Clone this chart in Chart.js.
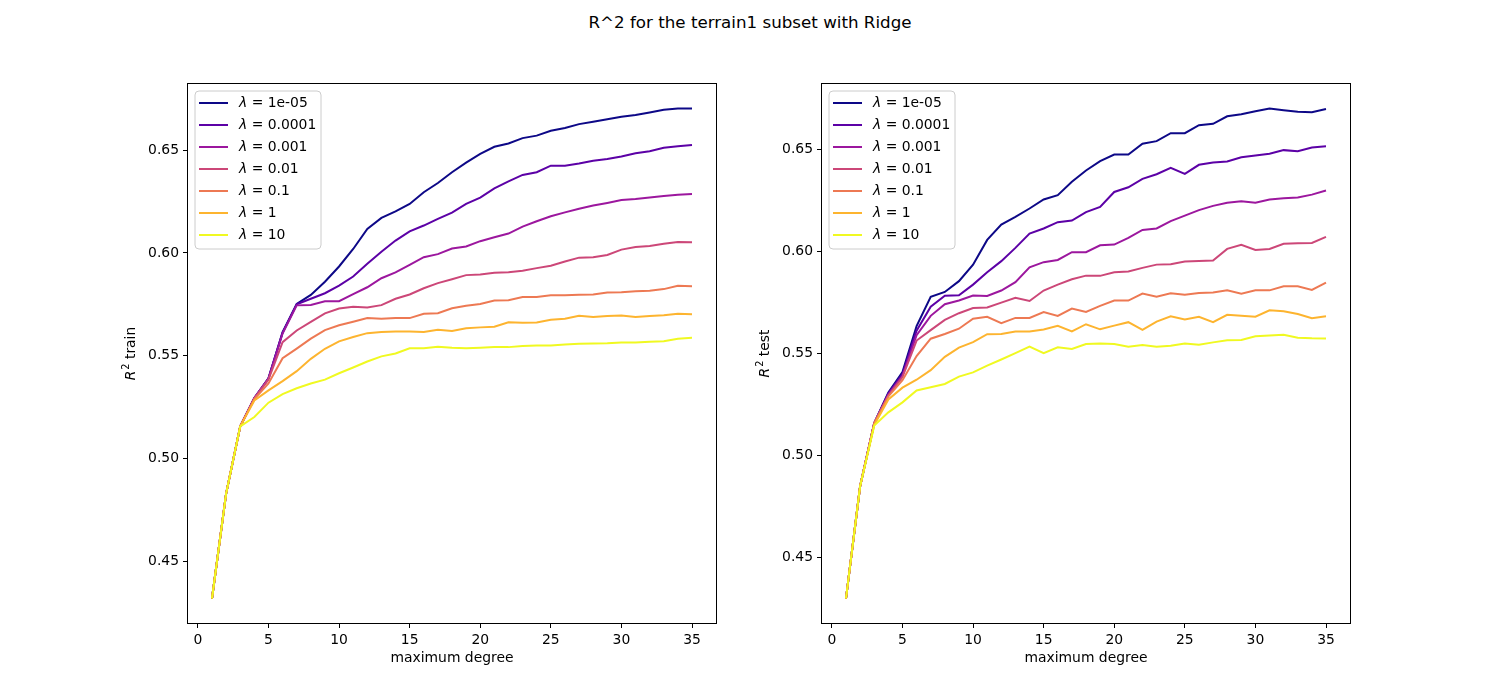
<!DOCTYPE html>
<html>
<head>
<meta charset="utf-8">
<script src="https://cdn.jsdelivr.net/npm/chart.js@4/dist/chart.umd.min.js"></script>
<style>
  body { margin: 0; background: #fff; }
  #wrap { position: relative; width: 1500px; height: 700px; overflow: hidden; }
  #title { position: absolute; left: 0; top: 12px; width: 1500px; text-align: center;
           font-family: "DejaVu Sans"; font-size: 16.7px; color: #000; }
  canvas { position: absolute; top: 0; }
</style>
</head>
<body>
<div id="wrap">
  <div id="title">R^2 for the terrain1 subset with Ridge</div>
  <canvas id="trainChart" width="750" height="700" style="left:0px"></canvas>
  <canvas id="testChart" width="750" height="700" style="left:750px"></canvas>
</div>
<script>
const degrees = [1, 2, 3, 4, 5, 6, 7, 8, 9, 10, 11, 12, 13, 14, 15, 16, 17, 18,
                 19, 20, 21, 22, 23, 24, 25, 26, 27, 28, 29, 30, 31, 32, 33, 34, 35];
const lambdas = ['1e-05', '0.0001', '0.001', '0.01', '0.1', '1', '10'];
const lineColors = ['#0d0887', '#5c01a6', '#9c179e', '#cc4778', '#ed7953', '#fdb42f', '#f0f921'];
const xTicks = [0, 5, 10, 15, 20, 25, 30, 35];
const yTicks = [0.45, 0.50, 0.55, 0.60, 0.65];

// R^2 on the training data, one array per lambda
const train1e5 = [0.432, 0.483, 0.5157, 0.5295, 0.5390, 0.5615, 0.5752, 0.5796, 0.5860, 0.5934, 0.6019, 0.6117,
  0.6170, 0.6202, 0.6238, 0.6295, 0.6340, 0.6392, 0.6439, 0.6481, 0.6516, 0.6532, 0.6558, 0.6570,
  0.6594, 0.6607, 0.6626, 0.6638, 0.6650, 0.6662, 0.6670, 0.6683, 0.6696, 0.6702, 0.6702];
const train1e4 = [0.432, 0.483, 0.5157, 0.5295, 0.5390, 0.5612, 0.5750, 0.5777, 0.5804, 0.5841, 0.5885, 0.5947,
  0.6006, 0.6060, 0.6105, 0.6133, 0.6165, 0.6196, 0.6238, 0.6269, 0.6314, 0.6348, 0.6379, 0.6392,
  0.6424, 0.6424, 0.6435, 0.6448, 0.6456, 0.6469, 0.6484, 0.6494, 0.6511, 0.6518, 0.6524];
const train1e3 = [0.432, 0.483, 0.5157, 0.5295, 0.5388, 0.5608, 0.5745, 0.5747, 0.5765, 0.5765, 0.5800, 0.5833,
  0.5877, 0.5905, 0.5942, 0.5979, 0.5994, 0.6021, 0.6031, 0.6057, 0.6076, 0.6094, 0.6128, 0.6154,
  0.6178, 0.6197, 0.6215, 0.6230, 0.6243, 0.6257, 0.6262, 0.6269, 0.6277, 0.6283, 0.6286];
const train1e2 = [0.432, 0.483, 0.5157, 0.5293, 0.5385, 0.5566, 0.5623, 0.5665, 0.5706, 0.5730, 0.5738, 0.5735,
  0.5746, 0.5777, 0.5798, 0.5828, 0.5853, 0.5872, 0.5892, 0.5895, 0.5903, 0.5906, 0.5913, 0.5926,
  0.5938, 0.5958, 0.5977, 0.5979, 0.5990, 0.6016, 0.6029, 0.6034, 0.6044, 0.6053, 0.6052];
const train1e1 = [0.432, 0.483, 0.5157, 0.5290, 0.5365, 0.5488, 0.5535, 0.5583, 0.5625, 0.5648, 0.5665, 0.5683,
  0.5680, 0.5684, 0.5683, 0.5704, 0.5707, 0.5731, 0.5743, 0.5752, 0.5769, 0.5770, 0.5786, 0.5786,
  0.5794, 0.5794, 0.5796, 0.5798, 0.5807, 0.5809, 0.5814, 0.5816, 0.5824, 0.5840, 0.5838];
const train1 = [0.432, 0.483, 0.5157, 0.5283, 0.5332, 0.5377, 0.5425, 0.5485, 0.5534, 0.5570, 0.5591, 0.5610,
  0.5615, 0.5618, 0.5618, 0.5615, 0.5626, 0.5620, 0.5634, 0.5638, 0.5641, 0.5663, 0.5660, 0.5662,
  0.5675, 0.5680, 0.5694, 0.5688, 0.5693, 0.5696, 0.5688, 0.5693, 0.5697, 0.5704, 0.5702];
const train10 = [0.432, 0.483, 0.5157, 0.5202, 0.5272, 0.5314, 0.5342, 0.5365, 0.5384, 0.5415, 0.5443, 0.5472,
  0.5497, 0.5511, 0.5536, 0.5537, 0.5544, 0.5539, 0.5537, 0.5539, 0.5542, 0.5542, 0.5547, 0.5550,
  0.5550, 0.5555, 0.5558, 0.5560, 0.5561, 0.5565, 0.5565, 0.5568, 0.5571, 0.5583, 0.5587];

// R^2 on the test data
const test1e5 = [0.430, 0.485, 0.516, 0.531, 0.541, 0.5635, 0.5778, 0.5802, 0.5855, 0.5936, 0.6057, 0.6132,
  0.6170, 0.6211, 0.6255, 0.6276, 0.6342, 0.6397, 0.6443, 0.6475, 0.6475, 0.6528, 0.6541, 0.6580,
  0.6580, 0.6619, 0.6626, 0.6663, 0.6673, 0.6688, 0.6701, 0.6693, 0.6685, 0.6683, 0.6699];
const test1e4 = [0.430, 0.485, 0.516, 0.5305, 0.540, 0.5612, 0.5730, 0.5784, 0.5786, 0.5838, 0.5899, 0.5953,
  0.6018, 0.6088, 0.6113, 0.6144, 0.6152, 0.6193, 0.6219, 0.6292, 0.6315, 0.6356, 0.6379, 0.6410,
  0.6381, 0.6425, 0.6436, 0.6441, 0.6462, 0.6471, 0.6479, 0.6497, 0.6492, 0.6510, 0.6516];
const test1e3 = [0.430, 0.485, 0.516, 0.530, 0.539, 0.5590, 0.5685, 0.5742, 0.5760, 0.5785, 0.5782, 0.5809,
  0.5850, 0.5923, 0.5948, 0.5959, 0.5997, 0.5997, 0.6031, 0.6034, 0.6067, 0.6106, 0.6113, 0.6149,
  0.6176, 0.6203, 0.6224, 0.6239, 0.6247, 0.6239, 0.6255, 0.6261, 0.6265, 0.6279, 0.6299];
const test1e2 = [0.430, 0.485, 0.516, 0.5295, 0.5385, 0.5564, 0.5615, 0.5665, 0.5698, 0.5723, 0.5726, 0.5750,
  0.5773, 0.5758, 0.5809, 0.5838, 0.5864, 0.5882, 0.5881, 0.5899, 0.5902, 0.5920, 0.5936, 0.5938,
  0.5951, 0.5954, 0.5956, 0.6013, 0.6033, 0.6008, 0.6013, 0.6038, 0.6041, 0.6042, 0.6072];
const test1e1 = [0.430, 0.485, 0.516, 0.529, 0.537, 0.5488, 0.5573, 0.5596, 0.5622, 0.5671, 0.5680, 0.5649,
  0.5675, 0.5675, 0.5704, 0.5685, 0.5721, 0.5704, 0.5734, 0.5760, 0.5760, 0.5794, 0.5779, 0.5796,
  0.5788, 0.5797, 0.5799, 0.5810, 0.5794, 0.5810, 0.5810, 0.5830, 0.5830, 0.5812, 0.5848];
const test1 = [0.430, 0.485, 0.515, 0.5275, 0.5333, 0.5372, 0.5419, 0.5484, 0.5529, 0.5556, 0.5595, 0.5596,
  0.5608, 0.5608, 0.5618, 0.5636, 0.5609, 0.5644, 0.5619, 0.5637, 0.5654, 0.5616, 0.5657, 0.5683,
  0.5667, 0.5680, 0.5654, 0.5690, 0.5686, 0.5681, 0.5712, 0.5708, 0.5694, 0.5673, 0.5683];
const test10 = [0.430, 0.485, 0.5147, 0.5212, 0.5261, 0.5319, 0.5335, 0.5351, 0.5387, 0.5408, 0.5441, 0.5471,
  0.5502, 0.5534, 0.5502, 0.5531, 0.5523, 0.5547, 0.5550, 0.5547, 0.5534, 0.5542, 0.5534, 0.5539,
  0.5550, 0.5544, 0.5555, 0.5565, 0.5567, 0.5585, 0.5589, 0.5592, 0.5578, 0.5575, 0.5574];

const trainSeries = [train1e5, train1e4, train1e3, train1e2, train1e1, train1, train10];
const testSeries = [test1e5, test1e4, test1e3, test1e2, test1e1, test1, test10];

Chart.defaults.font.family = 'DejaVu Sans';
Chart.defaults.font.size = 13.9;
Chart.defaults.color = '#000';

const FONT = '"DejaVu Sans"';

// frame, in-axes legend and axis titles drawn the matplotlib way
const mplDecor = {
  id: 'mplDecor',
  afterDatasetsDraw(chart, args, opts) {
    const ctx = chart.ctx, a = chart.chartArea;
    ctx.save();
    // legend box
    const bx = a.left + 7, by = a.top + 7, bw = 126, bh = 158, r = 4;
    ctx.beginPath();
    ctx.moveTo(bx + r, by);
    ctx.arcTo(bx + bw, by, bx + bw, by + bh, r);
    ctx.arcTo(bx + bw, by + bh, bx, by + bh, r);
    ctx.arcTo(bx, by + bh, bx, by, r);
    ctx.arcTo(bx, by, bx + bw, by, r);
    ctx.closePath();
    ctx.fillStyle = 'rgba(255,255,255,0.8)';
    ctx.fill();
    ctx.strokeStyle = '#cccccc';
    ctx.lineWidth = 1;
    ctx.stroke();
    chart.data.datasets.forEach((ds, i) => {
      const y = a.top + 19 + i * 22;
      ctx.strokeStyle = ds.borderColor;
      ctx.lineWidth = 2;
      ctx.beginPath();
      ctx.moveTo(a.left + 11, y);
      ctx.lineTo(a.left + 40, y);
      ctx.stroke();
      ctx.fillStyle = '#000';
      ctx.textBaseline = 'middle';
      ctx.textAlign = 'left';
      ctx.font = 'italic 13.9px ' + FONT;
      ctx.fillText('λ', a.left + 51, y);
      const w = ctx.measureText('λ').width;
      ctx.font = '13.9px ' + FONT;
      ctx.fillText(' = ' + lambdas[i], a.left + 51 + w, y);
    });
    ctx.restore();
  },
  afterDraw(chart, args, opts) {
    const ctx = chart.ctx, a = chart.chartArea;
    ctx.save();
    ctx.strokeStyle = '#000';
    ctx.lineWidth = 1;
    ctx.strokeRect(Math.round(a.left) - 0.5, Math.round(a.top) - 0.5,
                   Math.round(a.right - a.left) + 1, Math.round(a.bottom - a.top) + 1);
    // x axis title
    ctx.fillStyle = '#000';
    ctx.font = '13.9px ' + FONT;
    ctx.textAlign = 'center';
    ctx.textBaseline = 'middle';
    ctx.fillText(opts.xTitle, (a.left + a.right) / 2, a.bottom + 35);
    // y axis title: italic R, superscript 2, then the word
    ctx.translate(a.left - 57, (a.top + a.bottom) / 2);
    ctx.rotate(-Math.PI / 2);
    ctx.textAlign = 'left';
    ctx.font = 'italic 13.9px ' + FONT;
    const wR = ctx.measureText('R').width;
    ctx.font = '9.7px ' + FONT;
    const w2 = ctx.measureText('2').width;
    ctx.font = '13.9px ' + FONT;
    const wT = ctx.measureText(' ' + opts.yWord).width;
    let x = -(wR + w2 + 1 + wT) / 2;
    ctx.font = 'italic 13.9px ' + FONT;
    ctx.fillText('R', x, 0);
    x += wR + 1;
    ctx.font = '9.7px ' + FONT;
    ctx.fillText('2', x, -5);
    x += w2;
    ctx.font = '13.9px ' + FONT;
    ctx.fillText(' ' + opts.yWord, x, 0);
    ctx.restore();
  }
};

function makeChart(canvasId, series, yWord, yAxisWidth, rightPad) {
  const all = series.flat();
  const lo = Math.min(...all), hi = Math.max(...all);
  const m = (hi - lo) * 0.05;
  const xm = (degrees[degrees.length - 1] - degrees[0]) * 0.05;

  // later lambdas are drawn on top, as in the original plot
  const datasets = series.map((vals, i) => ({
    label: 'λ = ' + lambdas[i],
    data: vals.map((v, j) => ({ x: degrees[j], y: v })),
    borderColor: lineColors[i],
    backgroundColor: lineColors[i],
    borderWidth: 2,
    pointRadius: 0,
    tension: 0,
    fill: false,
    order: series.length - i
  }));

  return new Chart(document.getElementById(canvasId), {
    type: 'line',
    data: { datasets: datasets },
    options: {
      responsive: false,
      animation: false,
      events: [],
      layout: { padding: { top: 84, right: rightPad, left: 0, bottom: 0 } },
      scales: {
        x: {
          type: 'linear',
          min: degrees[0] - xm,
          max: degrees[degrees.length - 1] + xm,
          afterBuildTicks: (scale) => { scale.ticks = xTicks.map(v => ({ value: v })); },
          afterFit: (scale) => { scale.height = 77; },
          ticks: { padding: 4, maxRotation: 0, callback: (v) => String(v) },
          grid: { display: true, drawOnChartArea: false, drawTicks: true, tickLength: 5, tickColor: '#000' },
          border: { display: false }
        },
        y: {
          type: 'linear',
          min: lo - m,
          max: hi + m,
          afterBuildTicks: (scale) => { scale.ticks = yTicks.map(v => ({ value: v })); },
          afterFit: (scale) => { scale.width = yAxisWidth; },
          ticks: { padding: 4, callback: (v) => v.toFixed(2) },
          grid: { display: true, drawOnChartArea: false, drawTicks: true, tickLength: 5, tickColor: '#000' },
          border: { display: false }
        }
      },
      plugins: {
        legend: { display: false },
        tooltip: { enabled: false },
        mplDecor: { xTitle: 'maximum degree', yWord: yWord }
      }
    },
    plugins: [mplDecor]
  });
}

makeChart('trainChart', trainSeries, 'train', 188, 34);
makeChart('testChart', testSeries, 'test', 72, 150);
</script>
</body>
</html>
